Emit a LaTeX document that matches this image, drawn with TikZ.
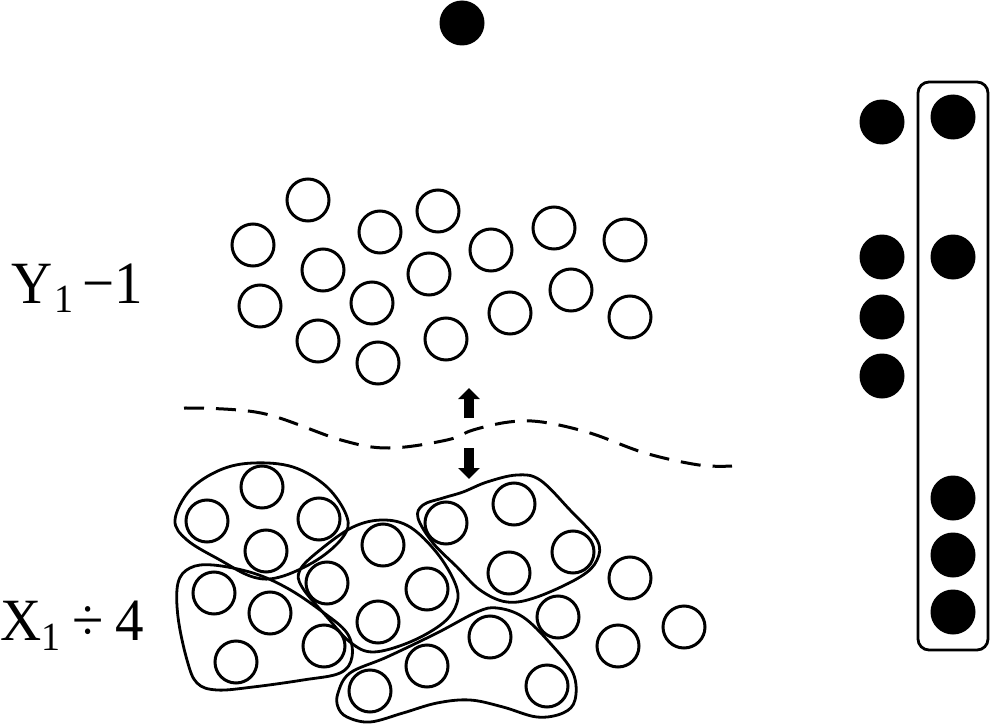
\documentclass[tikz,border=0pt]{standalone}
\usepackage{fontspec}
\setmainfont{Liberation Serif}
\usetikzlibrary{arrows.meta}
\begin{document}
\begin{tikzpicture}[x=1pt,y=-1pt,
  open/.style={circle,draw,minimum size=42pt,inner sep=0pt,line width=3pt},
  dot/.style={circle,fill=black,minimum size=45pt,inner sep=0pt},
  blob/.style={line width=2.8pt,line join=round},
  biga/.style={line width=10pt,-{Triangle[length=11pt,width=21pt]}},
  lab/.style={anchor=base west,inner sep=0pt,font=\fontsize{60}{60}\selectfont}]
\useasboundingbox (0,0) rectangle (991,725);

% top dot
\node[dot] (d0) at (462,23) {};

% right column
\node[dot] (l1) at (882,122) {};
\node[dot] (l2) at (882,257) {};
\node[dot] (l3) at (882,317) {};
\node[dot] (l4) at (882,376) {};
\draw[line width=2.8pt,rounded corners=11pt] (918,82) rectangle (988,650);
\node[dot] (r1) at (953,117) {};
\node[dot] (r2) at (953,257) {};
\node[dot] (r3) at (953,498) {};
\node[dot] (r4) at (953,555) {};
\node[dot] (r5) at (953,612) {};

% top cloud
\foreach \p/\n in {(308,200)/t1,(253,245)/t2,(380,232)/t3,(438,211)/t4,(491,250)/t5,(554,228)/t6,(625,240)/t7,(323,270)/t8,(429,274)/t9,(260,306)/t10,(372,303)/t11,(571,290)/t12,(510,313)/t13,(630,317)/t14,(318,341)/t15,(446,339)/t16,(378,363)/t17}
  \node[open] (\n) at \p {};

% labels
\node[lab] (ylab) at (11,303) {\scalebox{0.95}[1]{Y\hspace{2pt}\lower9pt\hbox{\fontsize{40}{40}\selectfont 1}\hspace{10pt}−1}};
\node[lab] (xlab) at (0,640) {\scalebox{0.95}[1]{X\lower10pt\hbox{\fontsize{40}{40}\selectfont 1}\hspace{13pt}÷\hspace{12pt}4}};

% dashed boundary
\draw[line width=3pt,dash pattern=on 20pt off 12pt] plot[smooth,tension=0.6] coordinates
 {(184,408) (261,413) (341,440) (389,448) (447,440) (473,430) (509,422) (542,422) (590,433) (645,453) (699,465) (732,466)};

% arrows
\coordinate (au0) at (469,418); \coordinate (au1) at (469,388);
\coordinate (ad0) at (469,448); \coordinate (ad1) at (469,479);
\draw[biga] (au0) -- (au1);
\draw[biga] (ad0) -- (ad1);

% blob A
\draw[blob] plot[smooth cycle,tension=0.6] coordinates
 {(175,520) (190,490) (220,470) (253,463) (293,467) (327,487) (347,517) (343,537) (317,560) (280,577) (253,577) (220,560) (187,540)};
\foreach \p/\n in {(262,487)/a1,(207,521)/a2,(319,519)/a3,(266,551)/a4} \node[open] (\n) at \p {};

% blob B
\draw[blob] plot[smooth cycle,tension=0.6] coordinates
 {(178,583) (190,568) (213,565) (253,573) (287,588) (320,610) (347,633) (352,657) (340,673) (303,680) (253,687) (217,690) (197,683) (187,660) (178,617)};
\foreach \p/\n in {(214,593)/b1,(270,613)/b2,(324,646)/b3,(236,662)/b4} \node[open] (\n) at \p {};

% blob C
\draw[blob] plot[smooth cycle,tension=0.6] coordinates
 {(383,520) (410,527) (437,553) (455,583) (457,603) (443,623) (410,642) (373,652) (350,642) (327,617) (302,587) (300,570) (320,550) (353,527)};
\foreach \p/\n in {(383,545)/c1,(327,583)/c2,(427,589)/c3,(378,622)/c4} \node[open] (\n) at \p {};

% blob D
\draw[blob] plot[smooth cycle,tension=0.6] coordinates
 {(418,518) (423,505) (443,498) (463,492) (487,482) (517,475) (540,480) (570,510) (597,540) (597,560) (580,577) (537,597) (507,602) (480,590) (457,567) (433,543)};
\foreach \p/\n in {(514,504)/d1,(446,523)/d2,(573,552)/d3,(509,573)/d4} \node[open] (\n) at \p {};

% blob E
\draw[blob] plot[smooth cycle,tension=0.6] coordinates
 {(338,693) (350,673) (387,657) (437,633) (477,612) (497,608) (523,617) (550,643) (573,673) (575,700) (563,713) (537,717) (503,707) (470,700) (437,703) (403,713) (370,722) (347,717) (338,707)};
\foreach \p/\n in {(370,691)/e1,(427,666)/e2,(490,637)/e3,(547,686)/e4} \node[open] (\n) at \p {};

% free circles
\foreach \p/\n in {(558,617)/f1,(630,578)/f2,(618,646)/f3,(684,627)/f4} \node[open] (\n) at \p {};
\end{tikzpicture}
\end{document}
